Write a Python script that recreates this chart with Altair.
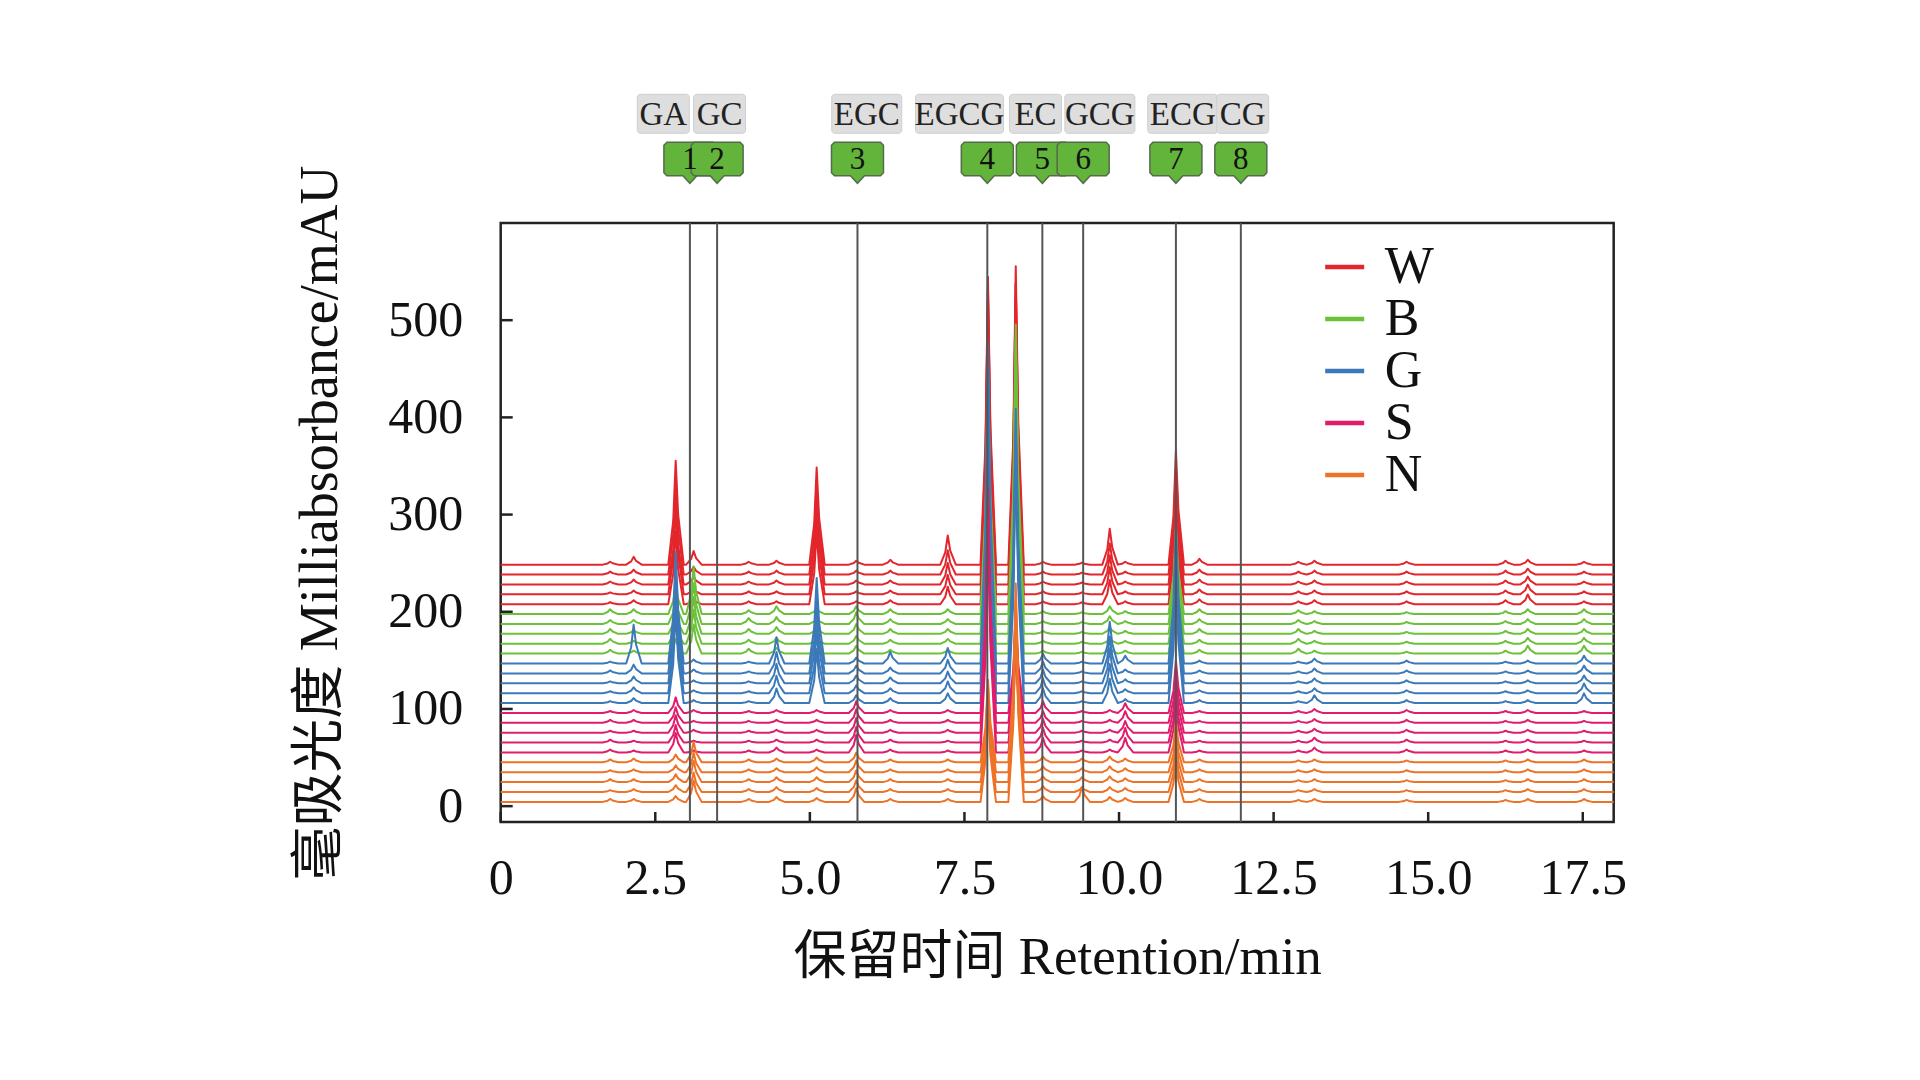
import altair as alt
import pandas as pd

FONT = "Liberation Serif, Noto Sans CJK SC"

# sample groups, drawn in this order (W first, N last = on top)
GROUPS = ["W", "B", "G", "S", "N"]
GROUP_COLORS = ["#e2262c", "#6cc13a", "#3b79b9", "#e11c6c", "#ee7326"]
STACK_ORDER = ["N", "S", "G", "B", "W"]  # bottom to top in the plot

# retention times (min) of the peaks / bumps
PEAK_TIMES = [1.77, 2.15, 2.83, 3.12, 4.01, 4.46, 5.11, 5.75, 6.30, 7.23, 7.88, 8.33,
              8.77, 9.40, 9.85, 10.10, 10.92, 11.30, 12.90, 13.16, 14.65, 16.25, 16.61, 17.52]

# peak heights (mAU) above the baseline, 5 replicates per row (lowest trace first)
W_HEIGHTS = [[2, 2, 3, 3, 3], [4, 4, 5, 5, 8], [75, 88, 85, 98, 107], [5, 6, 8, 8, 14],
             [3, 3, 3, 3, 3], [3, 3, 4, 4, 4], [75, 85, 90, 95, 100], [3, 3, 4, 4, 4],
             [4, 4, 4, 4, 5], [18, 20, 22, 25, 30], [300, 285, 305, 290, 296],
             [290, 300, 310, 300, 307], [3, 3, 3, 3, 3], [2, 2, 2, 2, 2],
             [25, 28, 30, 32, 37], [3, 3, 3, 3, 3], [100, 105, 110, 112, 118],
             [5, 5, 5, 5, 6], [3, 3, 3, 3, 3], [4, 4, 4, 4, 4], [3, 3, 3, 3, 3],
             [4, 4, 4, 4, 4], [10, 10, 8, 6, 5], [3, 3, 3, 3, 3]]
B_HEIGHTS = [[4, 5, 5, 4, 5], [3, 3, 4, 4, 5], [15, 20, 24, 28, 32], [30, 35, 38, 42, 49],
             [5, 4, 5, 6, 4], [6, 6, 7, 7, 8], [5, 5, 6, 6, 6], [8, 8, 10, 12, 8],
             [4, 4, 5, 5, 5], [4, 5, 5, 5, 5], [240, 250, 260, 250, 255],
             [300, 290, 300, 295, 298], [3, 3, 3, 3, 3], [2, 2, 2, 2, 2],
             [6, 6, 7, 8, 8], [3, 3, 3, 3, 3], [80, 85, 85, 90, 90],
             [4, 4, 5, 5, 5], [5, 5, 5, 4, 4], [3, 3, 3, 3, 3], [2, 2, 2, 2, 2],
             [3, 3, 3, 3, 3], [8, 6, 5, 5, 5], [8, 6, 5, 5, 5]]
G_HEIGHTS = [[2, 2, 2, 3, 2], [5, 6, 7, 9, 40], [95, 100, 105, 110, 115], [3, 3, 3, 4, 4],
             [2, 2, 2, 2, 2], [15, 18, 20, 22, 27], [55, 65, 75, 80, 88], [8, 8, 8, 8, 6],
             [5, 5, 6, 6, 12], [10, 12, 12, 14, 16], [300, 310, 320, 325, 330],
             [250, 255, 260, 258, 262], [15, 15, 14, 12, 10], [2, 2, 2, 2, 2],
             [25, 30, 35, 38, 43], [4, 4, 4, 4, 8], [130, 135, 140, 140, 144],
             [3, 3, 3, 3, 3], [2, 2, 2, 2, 2], [8, 5, 5, 5, 5], [3, 3, 3, 3, 3],
             [2, 2, 2, 2, 2], [3, 3, 3, 3, 3], [10, 10, 8, 8, 8]]
S_HEIGHTS = [[3, 3, 2, 3, 2], [2, 2, 2, 3, 3], [20, 18, 18, 16, 16], [2, 2, 3, 2, 3],
             [2, 2, 2, 2, 2], [5, 3, 3, 3, 3], [3, 3, 3, 3, 3], [18, 16, 15, 14, 12],
             [3, 3, 3, 3, 3], [2, 2, 3, 3, 3], [230, 235, 240, 235, 232],
             [110, 110, 115, 110, 105], [15, 15, 14, 12, 12], [2, 2, 2, 2, 2],
             [3, 3, 3, 3, 3], [15, 15, 12, 12, 10], [55, 55, 55, 55, 54],
             [2, 2, 2, 2, 2], [2, 2, 2, 2, 2], [5, 5, 4, 4, 4], [3, 3, 3, 3, 3],
             [2, 2, 2, 2, 2], [3, 3, 3, 3, 3], [2, 2, 2, 2, 2]]
N_HEIGHTS = [[3, 2, 3, 2, 3], [3, 3, 3, 3, 4], [6, 7, 8, 7, 8], [22, 20, 22, 20, 21],
             [3, 3, 3, 3, 3], [5, 5, 5, 4, 4], [4, 4, 5, 5, 5], [14, 12, 12, 12, 10],
             [3, 3, 3, 3, 3], [3, 3, 3, 3, 3], [100, 95, 90, 90, 85],
             [190, 185, 185, 180, 184], [6, 6, 6, 6, 6], [15, 5, 5, 4, 4],
             [5, 5, 6, 6, 6], [4, 4, 4, 4, 4], [45, 45, 44, 44, 43],
             [3, 3, 3, 3, 3], [2, 2, 2, 2, 2], [3, 3, 3, 3, 3], [2, 2, 2, 2, 2],
             [2, 2, 2, 2, 2], [3, 3, 3, 3, 3], [3, 3, 3, 3, 3]]
HEIGHTS = {"W": W_HEIGHTS, "B": B_HEIGHTS, "G": G_HEIGHTS, "S": S_HEIGHTS, "N": N_HEIGHTS}

# marked compounds
LINE_TIMES = [3.06, 3.50, 5.77, 7.87, 8.76, 9.42, 10.92, 11.97]
PEAK_NUMBERS = ["1", "2", "3", "4", "5", "6", "7", "8"]
COMPOUNDS = ["GA", "GC", "EGC", "EGCG", "EC", "GCG", "ECG", "CG"]
COMPOUND_TIMES = [2.63, 3.54, 5.92, 7.42, 8.65, 9.69, 11.03, 12.00]

Y_TICKS = [0, 100, 200, 300, 400, 500]
X_TICKS = [0, 2.5, 5.0, 7.5, 10.0, 12.5, 15.0, 17.5]

# layout
X_MAX = 18
PLOT_W, PLOT_H = 1113, 599
PX_PER_MIN = PLOT_W / X_MAX
FIRST_BASE, STACK_STEP = 4.4, 10.17
PEAK_DX = [-0.12, -0.04, 0.0, 0.04, 0.13]   # peak outline
PEAK_FRAC = [0.0, 0.42, 1.0, 0.48, 0.0]

rows = []
for g in GROUPS:
    for j in range(5):
        base = FIRST_BASE + STACK_STEP * (STACK_ORDER.index(g) * 5 + j)
        pts = [(0.0, base)]
        for rt, hs in zip(PEAK_TIMES, HEIGHTS[g]):
            for dx, f in zip(PEAK_DX, PEAK_FRAC):
                pts.append((rt + dx, base + f * hs[j]))
        pts.append((X_MAX, base))
        for k, (t, y) in enumerate(pts):
            rows.append({"t": t, "y": y, "group": g, "trace": f"{g}{j}", "k": k})
traces = pd.DataFrame(rows)

x_scale = alt.Scale(domain=[0, X_MAX], nice=False, zero=False)
y_scale = alt.Scale(domain=[-16.3, 600], nice=False, zero=False)
color_scale = alt.Scale(domain=GROUPS, range=GROUP_COLORS)

legend = alt.Legend(
    title=None, orient="none", legendX=818, legendY=18, padding=0,
    symbolType="stroke", symbolSize=1521, symbolStrokeWidth=4.5,
    labelFont=FONT, labelFontSize=52, labelColor="#111", labelOffset=14,
    rowPadding=0,
)
x_axis = alt.Axis(
    values=X_TICKS, labelExpr="datum.value == 0 ? '0' : format(datum.value, '.1f')",
    title="保留时间 Retention/min", grid=False, domain=False, ticks=False, tickSize=0,
    labelFont=FONT, labelFontSize=50, labelColor="#111", labelPadding=57,
    labelBaseline="middle", labelFlush=False, labelOverlap=False,
    titleFont=FONT, titleFontSize=53, titleFontWeight="normal", titleColor="#111",
    titleX=PLOT_W / 2, titleY=136, titleBaseline="middle", titleAlign="center",
)
y_axis = alt.Axis(
    values=Y_TICKS, title="毫吸光度 Milliabsorbance/mAU", grid=False, domain=False,
    ticks=False, tickSize=0, labelFont=FONT, labelFontSize=50, labelColor="#111",
    labelPadding=38, labelBaseline="middle",
    titleFont=FONT, titleFontSize=54, titleFontWeight="normal", titleColor="#111",
    titleAngle=270, titleX=-180, titleY=PLOT_H / 2, titleBaseline="middle",
    titleAlign="center",
)


def xenc(field):
    return alt.X(field, scale=x_scale, axis=x_axis)


def yenc(field):
    return alt.Y(field, scale=y_scale, axis=y_axis)


layers = []
for g in GROUPS:
    layers.append(
        alt.Chart(traces[traces.group == g]).mark_line(strokeWidth=2, strokeJoin="round").encode(
            x=xenc("t:Q"),
            y=yenc("y:Q"),
            color=alt.Color("group:N", scale=color_scale, legend=legend),
            detail="trace:N",
            order="k:Q",
        )
    )

lines_df = pd.DataFrame({"t": LINE_TIMES, "num": PEAK_NUMBERS})
vlines = alt.Chart(lines_df).mark_rule(color="#555", strokeWidth=2).encode(x=xenc("t:Q"))

# inward ticks
yticks = alt.Chart(pd.DataFrame({"v": Y_TICKS})).mark_rule(color="#222", strokeWidth=2.5).encode(
    y=yenc("v:Q"), x=alt.value(0), x2=alt.value(12)
)
xticks = alt.Chart(pd.DataFrame({"v": X_TICKS})).mark_rule(color="#222", strokeWidth=2.5).encode(
    x=xenc("v:Q"), y=alt.value(PLOT_H), y2=alt.value(PLOT_H - 10)
)

# compound name boxes
comp_df = pd.DataFrame({"t": COMPOUND_TIMES, "label": COMPOUNDS})
half_w = (8 + 9 * comp_df["label"].str.len()) / PX_PER_MIN
comp_df["t0"] = comp_df["t"] - half_w
comp_df["t1"] = comp_df["t"] + half_w
name_boxes = alt.Chart(comp_df).mark_rect(
    fill="#dedede", stroke="#cfcfcf", strokeWidth=1, cornerRadius=3
).encode(
    x=xenc("t0:Q"), x2="t1:Q",
    y=alt.value(-128.7), y2=alt.value(-89.7),
)
name_text = alt.Chart(comp_df).mark_text(
    font=FONT, fontSize=33, color="#222", baseline="middle", align="center"
).encode(x=xenc("t:Q"), y=alt.value(-108), text="label:N")

# green numbered callouts
CALLOUT = ("M-0.885,-0.642 L0.885,-0.642 L1,-0.527 L1,0.527 L0.885,0.642 L0.27,0.642 "
           "L0,0.935 L-0.27,0.642 L-0.885,0.642 L-1,0.527 L-1,-0.527 Z")
callouts = alt.Chart(lines_df).mark_point(
    shape=CALLOUT, size=2704, filled=True, fill="#62b43a", stroke="#556b4c",
    strokeWidth=1.5, opacity=1,
).encode(x=xenc("t:Q"), y=alt.value(-64))
callout_text = alt.Chart(lines_df).mark_text(
    font=FONT, fontSize=31, color="#111", baseline="middle", align="center"
).encode(x=xenc("t:Q"), y=alt.value(-63), text="num:N")

chart = (
    alt.layer(*layers, vlines, yticks, xticks, name_boxes, name_text, callouts, callout_text)
    .properties(
        width=PLOT_W, height=PLOT_H,
        autosize=alt.AutoSizeParams(type="none"),
        padding={"left": 492.7, "top": 215, "right": 290, "bottom": 240},
    )
    .configure_view(stroke="#222", strokeWidth=2.5)
)

chart.save("out.html", embed_options={"renderer": "svg", "actions": False})
